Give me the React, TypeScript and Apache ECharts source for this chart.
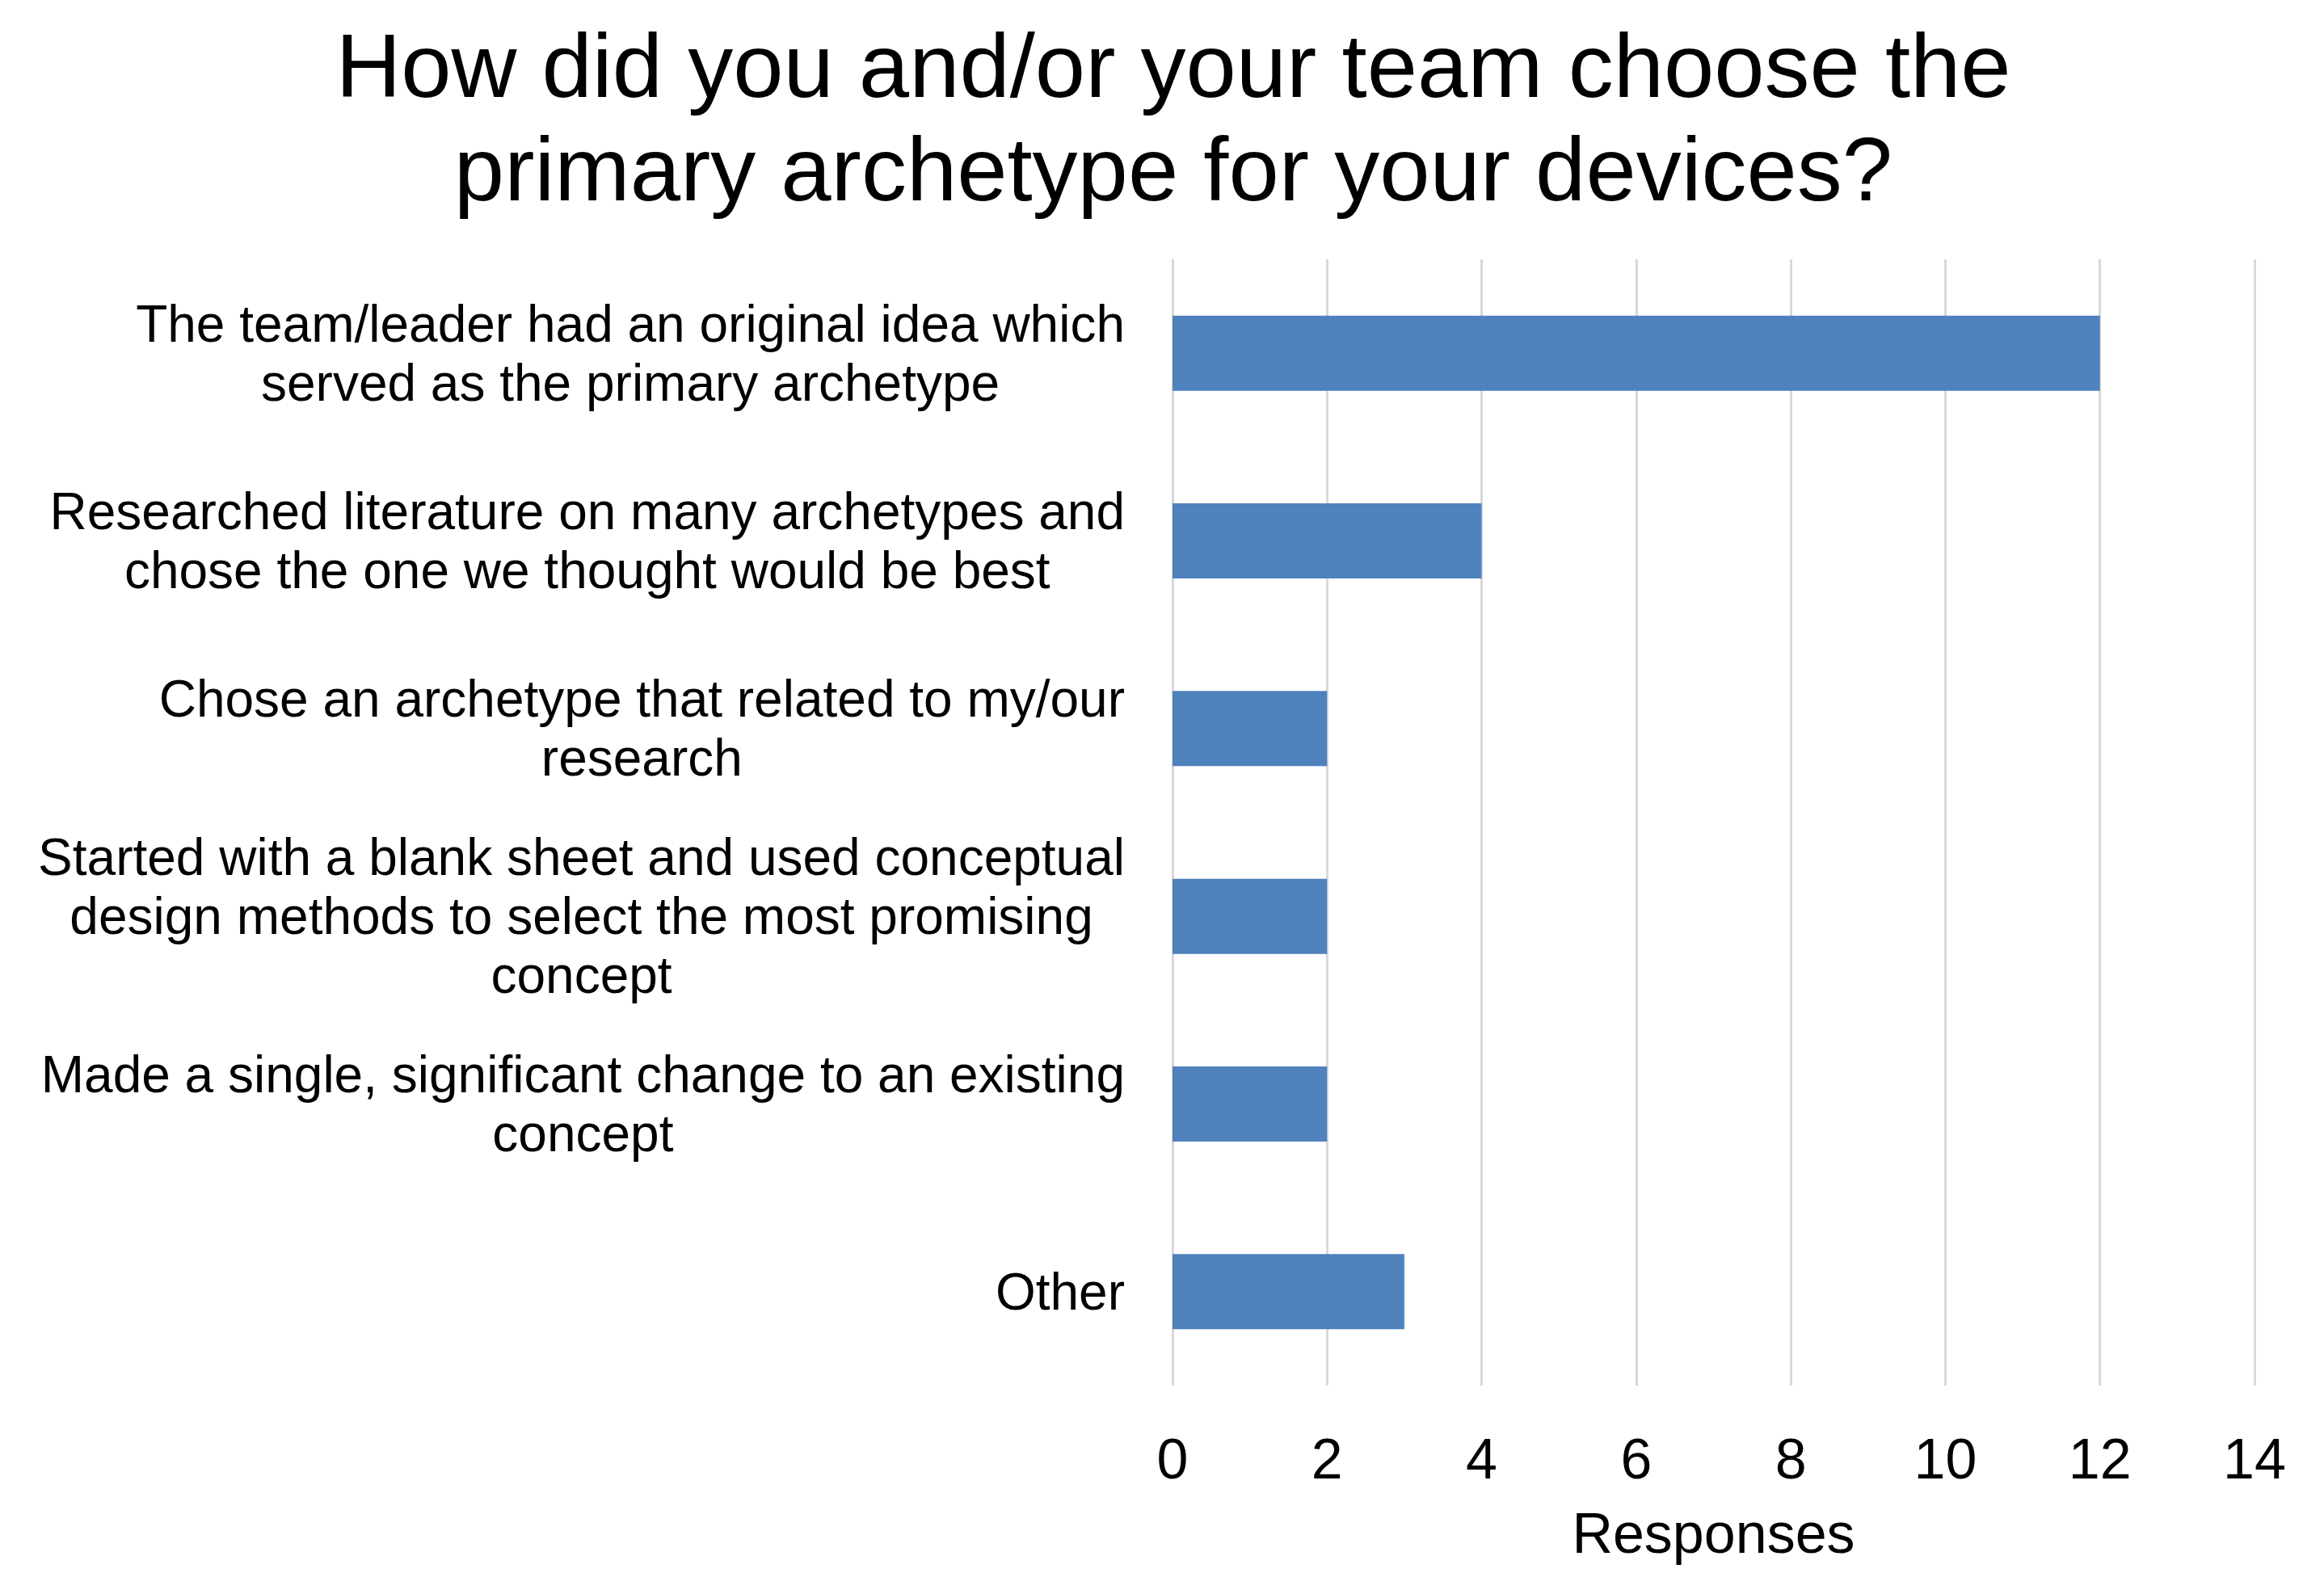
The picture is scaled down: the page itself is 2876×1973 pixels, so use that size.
import React, { useEffect, useRef } from "react";
import * as echarts from "echarts";

const titleText = "How did you and/or your team choose the\nprimary archetype for your devices?";
const categories = [
  "The team/leader had an original idea which\nserved as the primary archetype",
  "Researched literature on many archetypes and\nchose the one we thought would be best",
  "Chose an archetype that related to my/our\nresearch",
  "Started with a blank sheet and used conceptual\ndesign methods to select the most promising\nconcept",
  "Made a single, significant change to an existing\nconcept",
  "Other",
];
const responses = [12, 4, 2, 2, 2, 3];
const axisName = "Responses";

const FONT = "'Liberation Sans', Arial, sans-serif";

export default function App() {
  const ref = useRef<HTMLDivElement>(null);
  useEffect(() => {
    if (!ref.current) return;
    const chart = echarts.init(ref.current, undefined, { renderer: "svg" });
    chart.setOption({
      animation: false,
      backgroundColor: "#ffffff",
      title: {
        text: titleText,
        left: 1447,
        top: 12,
        textAlign: "center",
        textStyle: {
          fontFamily: FONT,
          fontSize: 112,
          fontWeight: "normal",
          color: "#000000",
          lineHeight: 128,
        },
      },
      grid: { left: 1451, right: 86, top: 321, bottom: 258, containLabel: false },
      xAxis: {
        type: "value",
        min: 0,
        max: 14,
        interval: 2,
        name: axisName,
        nameLocation: "middle",
        nameGap: 148,
        nameTextStyle: { fontFamily: FONT, fontSize: 70, color: "#000000" },
        axisLine: { show: false },
        axisTick: { show: false },
        axisLabel: { fontFamily: FONT, fontSize: 70, color: "#000000", margin: 56 },
        splitLine: { show: true, lineStyle: { color: "#d9d9d9", width: 3 } },
      },
      yAxis: {
        type: "category",
        data: categories,
        inverse: true,
        axisLine: { show: false },
        axisTick: { show: false },
        splitLine: { show: false },
        axisLabel: {
          margin: 59,
          formatter: (v: string) =>
            v
              .split("\n")
              .map((l) => `{c|${l}}`)
              .join("\n"),
          rich: {
            c: {
              align: "center",
              fontFamily: FONT,
              fontSize: 64,
              lineHeight: 73,
              color: "#000000",
            },
          },
        },
      },
      series: [
        {
          type: "bar",
          data: responses,
          barWidth: "40%",
          itemStyle: { color: "#4f81bd" },
        },
      ],
    });
    return () => chart.dispose();
  }, []);
  return (
    <div
      ref={ref}
      style={{ position: "fixed", left: 0, top: 0, width: 2876, height: 1973, background: "#fff" }}
    />
  );
}
